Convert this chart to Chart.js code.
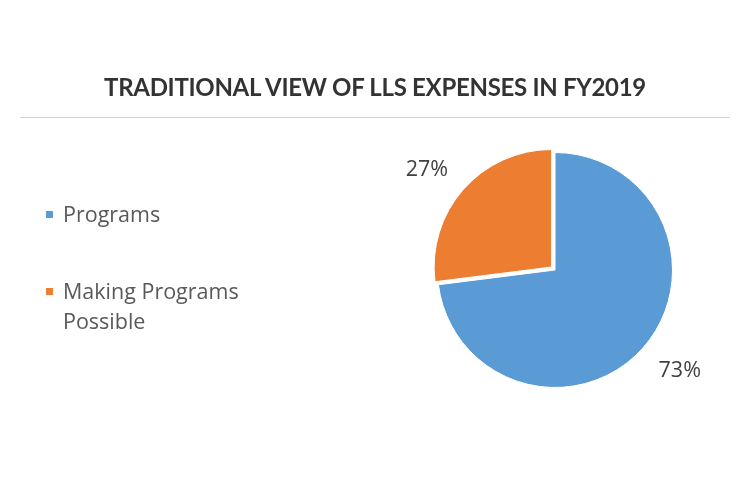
<!DOCTYPE html>
<html>
<head>
<meta charset="utf-8">
<script src="https://cdn.jsdelivr.net/npm/chart.js@4.4.0/dist/chart.umd.min.js"></script>
<style>
  html, body { margin: 0; padding: 0; background: #fff; }
  #wrap { position: relative; width: 750px; height: 500px; overflow: hidden; }
  #pie { position: absolute; left: 0; top: 0; }
  #title {
    position: absolute; left: 0; top: 72px; width: 750px; text-align: center;
    font-family: Lato, sans-serif; font-weight: bold; font-size: 24px; color: #333;
    letter-spacing: -0.3px;
  }
  #rule { position: absolute; left: 20px; top: 117px; width: 710px; height: 1px; background: #d4d4d4; }
  #legend { position: absolute; left: 46px; top: 0; font-family: "Open Sans", sans-serif; font-size: 21.5px; color: #595959; }
  .item { position: absolute; left: 0; white-space: nowrap; line-height: 30px; }
  .box { position: absolute; left: 0; width: 7px; height: 7px; }
  .txt { position: absolute; left: 17px; top: 0; }
</style>
</head>
<body>
<div id="wrap">
  <canvas id="pie" width="750" height="500"></canvas>
  <div id="title">TRADITIONAL VIEW OF LLS EXPENSES IN FY2019</div>
  <div id="rule"></div>
  <div id="legend"></div>
</div>
<script>
const chartTitle = "TRADITIONAL VIEW OF LLS EXPENSES IN FY2019";
const categories = ["Programs", "Making Programs Possible"];
const legendLines = [["Programs"], ["Making Programs", "Possible"]];
const shares = [73, 27];
const colors = ["#5B9BD5", "#ED7D31"];
const sliceOffsets = [0, 18];

document.getElementById("title").textContent = chartTitle;

// html legend, the long label breaks over two lines like the original
let legendDiv = document.getElementById("legend");
let legendTops = [199, 276];
categories.forEach((cat, idx) => {
  let item = document.createElement("div");
  item.className = "item";
  item.style.top = legendTops[idx] + "px";
  let box = document.createElement("div");
  box.className = "box";
  box.style.background = colors[idx];
  box.style.top = "12px";
  let txt = document.createElement("div");
  txt.className = "txt";
  txt.innerHTML = legendLines[idx].join("<br>");
  item.append(box, txt);
  legendDiv.append(item);
});

// percent labels outside each slice, inner corner of the text box on the mid-angle ray
const outsideLabels = {
  id: "outsideLabels",
  afterDatasetsDraw(chart) {
    const ctx = chart.ctx;
    const meta = chart.getDatasetMeta(0);
    const data = chart.data.datasets[0].data;
    const total = data.reduce((a, b) => a + b, 0);
    const capH = 15.5;
    ctx.save();
    ctx.font = "21.5px 'Open Sans', sans-serif";
    ctx.fillStyle = "#404040";
    ctx.textAlign = "center";
    ctx.textBaseline = "alphabetic";
    meta.data.forEach((arc, i) => {
      const p = arc.getProps(["x", "y", "startAngle", "endAngle", "outerRadius"], true);
      const mid = (p.startAngle + p.endAngle) / 2;
      const r = p.outerRadius * 1.175 + sliceOffsets[i] / 4;
      const txt = Math.round(data[i] / total * 100) + "%";
      const w = ctx.measureText(txt).width;
      const cx = p.x + Math.cos(mid) * r + Math.sign(Math.cos(mid)) * w / 2;
      const cy = p.y + Math.sin(mid) * r + Math.sign(Math.sin(mid)) * capH / 2;
      ctx.fillText(txt, cx, cy + capH / 2);
    });
    ctx.restore();
  },
};

new Chart(document.getElementById("pie"), {
  type: "pie",
  data: {
    labels: categories,
    datasets: [
      {
        data: shares,
        backgroundColor: colors,
        borderColor: "#ffffff",
        borderWidth: 1,
        offset: sliceOffsets,
      },
    ],
  },
  options: {
    responsive: false,
    animation: false,
    layout: { padding: { left: 428, top: 143, right: 68, bottom: 103 } },
    plugins: {
      legend: { display: false },
      tooltip: { enabled: false },
    },
  },
  plugins: [outsideLabels],
});
</script>
</body>
</html>
